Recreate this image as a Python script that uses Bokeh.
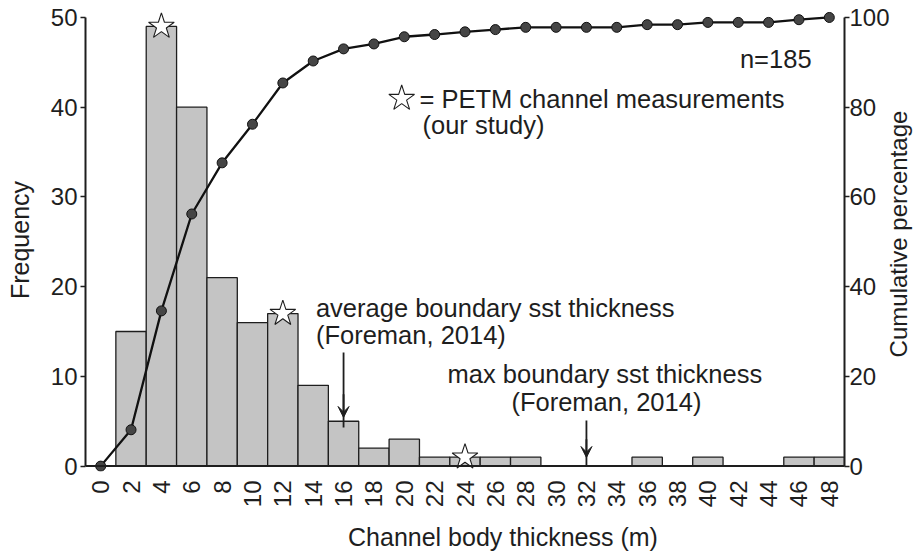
from math import pi
from bokeh.plotting import figure
from bokeh.models import Range1d, LinearAxis, FixedTicker, Span, Arrow, VeeHead, Label
from bokeh.embed import file_html
from bokeh.resources import INLINE

FONT = "Liberation Sans"
INK = "#1e1e1e"

# ---- data ----
bin_centers = [2, 4, 6, 8, 10, 12, 14, 16, 18, 20, 22, 24,
               26, 28, 30, 32, 34, 36, 38, 40, 42, 44, 46, 48]
counts = [15, 49, 40, 21, 16, 17, 9, 5, 2, 3, 1, 1,
          1, 1, 0, 0, 0, 1, 0, 1, 0, 0, 1, 1]
cum_x = [0, 2, 4, 6, 8, 10, 12, 14, 16, 18, 20, 22, 24,
         26, 28, 30, 32, 34, 36, 38, 40, 42, 44, 46, 48]
cum_pct = [0, 8.1, 34.6, 56.2, 67.6, 76.2, 85.4, 90.3, 93.0, 94.1, 95.7, 96.2, 96.8,
           97.3, 97.8, 97.8, 97.8, 97.8, 98.4, 98.4, 98.9, 98.9, 98.9, 99.5, 100]
star_x = [4, 12, 24]
star_y = [49, 17, 1]
x_tick_values = [0, 2, 4, 6, 8, 10, 12, 14, 16, 18, 20, 22, 24,
                 26, 28, 30, 32, 34, 36, 38, 40, 42, 44, 46, 48]
freq_ticks = [0, 10, 20, 30, 40, 50]
pct_ticks = [0, 20, 40, 60, 80, 100]

p = figure(width=919, height=551, title=None,
           x_range=Range1d(-1, 49), y_range=Range1d(-0.6, 51),
           output_backend="svg", toolbar_location=None,
           min_border_left=85, min_border_right=73,
           min_border_top=8, min_border_bottom=80)
p.extra_y_ranges = {"pct": Range1d(-1.2, 102)}
p.outline_line_color = None
p.xgrid.visible = False
p.ygrid.visible = False
p.background_fill_color = "white"
p.border_fill_color = "white"

# x axis
xa = p.xaxis[0]
xa.ticker = FixedTicker(ticks=x_tick_values)
xa.major_label_orientation = pi / 2
xa.axis_line_color = None
xa.major_tick_line_color = None
xa.minor_tick_line_color = None
xa.major_tick_out = 0
xa.major_tick_in = 0
xa.major_label_standoff = 9
xa.major_label_text_font = FONT
xa.major_label_text_font_size = "24px"
xa.major_label_text_color = INK

# left axis
ya = p.yaxis[0]
ya.ticker = FixedTicker(ticks=freq_ticks)
ya.bounds = (0, 50)
ya.axis_line_width = 2
ya.axis_line_color = INK
ya.major_tick_line_color = INK
ya.major_tick_line_width = 1.5
ya.major_tick_out = 5
ya.major_tick_in = 0
ya.minor_tick_line_color = None
ya.major_label_standoff = 3
ya.major_label_text_font = FONT
ya.major_label_text_font_size = "24px"
ya.major_label_text_color = INK
ya.axis_label = "Frequency"
ya.axis_label_text_font = FONT
ya.axis_label_text_font_size = "25px"
ya.axis_label_text_font_style = "normal"
ya.axis_label_text_color = INK
ya.axis_label_standoff = 14

# right axis
ra = LinearAxis(y_range_name="pct", ticker=FixedTicker(ticks=pct_ticks), bounds=(0, 100))
ra.axis_line_width = 2
ra.axis_line_color = INK
ra.major_tick_line_color = INK
ra.major_tick_line_width = 1.5
ra.major_tick_out = 5
ra.major_tick_in = 0
ra.minor_tick_line_color = None
ra.major_label_standoff = 0
ra.major_label_text_font = FONT
ra.major_label_text_font_size = "24px"
ra.major_label_text_color = INK
p.add_layout(ra, "right")

# axis titles placed in the side panels (reading bottom-to-top on the right)
p.add_layout(Label(x=52.58, y=25.87, text="Cumulative percentage", angle=pi / 2,
                   text_font=FONT, text_font_size="24px", text_color=INK,
                   text_align="center", text_baseline="alphabetic"), "right")
p.add_layout(Label(x=26.5, y=-7.94, text="Channel body thickness (m)",
                   text_font=FONT, text_font_size="25px", text_color=INK,
                   text_align="center", text_baseline="alphabetic"), "below")

# bars
bx = [x for x, c in zip(bin_centers, counts) if c > 0]
bt = [c for c in counts if c > 0]
p.vbar(x=bx, top=bt, bottom=0, width=2, fill_color="#c4c4c4",
       line_color=INK, line_width=1.3)

# baseline
p.add_layout(Span(location=0, dimension="width", line_color=INK, line_width=2))

# cumulative curve
p.line(cum_x, cum_pct, y_range_name="pct", line_color="#111111", line_width=2.3)
p.scatter(cum_x, cum_pct, y_range_name="pct", size=10, marker="circle",
          fill_color="#454545", line_color="#111111", line_width=1)

# stars
p.scatter(star_x, star_y, marker="star", size=27, fill_color="white",
          line_color=INK, line_width=1.1)
p.scatter([19.83], [40.97], marker="star", size=27, fill_color="white",
          line_color=INK, line_width=1.1)

def lab(x, y, text, align="left"):
    p.add_layout(Label(x=x, y=y, text=text, text_font=FONT, text_font_size="25.5px",
                       text_color=INK, text_align=align, text_baseline="alphabetic"))

lab(21.0, 40.96, "= PETM channel measurements")
lab(21.2, 38.06, "(our study)")
lab(46.83, 45.4, "n=185", align="right")
lab(14.18, 17.66, "average boundary sst thickness")
lab(14.18, 14.56, "(Foreman, 2014)")
lab(22.85, 10.3, "max boundary sst thickness")
lab(27.06, 7.18, "(Foreman, 2014)")

# arrows
p.segment(x0=[16, 32], y0=[12.66, 5.08], x1=[16, 32], y1=[4.3, 0.05],
          line_color=INK, line_width=1.8)
for xa_, ys, ye in [(16, 8.0, 5.42), (32, 3.0, 0.96)]:
    p.add_layout(Arrow(end=VeeHead(size=11, fill_color=INK, line_color=INK, line_width=1),
                       x_start=xa_, y_start=ys, x_end=xa_, y_end=ye,
                       line_color=INK, line_width=1.8))

open("out.html", "w").write(file_html(p, INLINE))
